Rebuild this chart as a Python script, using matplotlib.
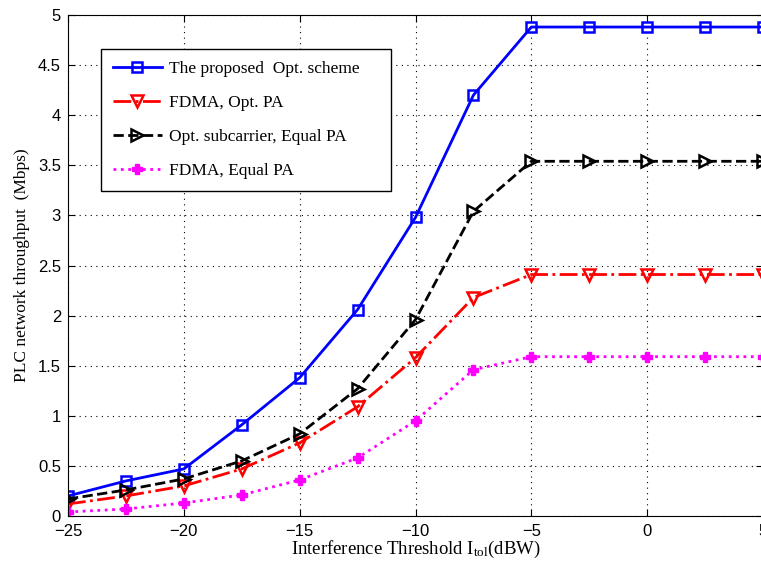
import numpy as np
import matplotlib.pyplot as plt

plt.rcParams['mathtext.fontset'] = 'custom'
plt.rcParams['mathtext.rm'] = 'Liberation Serif'
plt.rcParams['mathtext.it'] = 'Liberation Serif'

x = [-25, -22.5, -20, -17.5, -15, -12.5, -10, -7.5, -5, -2.5, 0, 2.5, 5]
proposed = [0.2, 0.35, 0.47, 0.91, 1.38, 2.06, 2.98, 4.2, 4.88, 4.88, 4.88, 4.88, 4.88]
fdma_opt = [0.12, 0.2, 0.3, 0.47, 0.73, 1.09, 1.58, 2.18, 2.41, 2.41, 2.41, 2.41, 2.41]
opt_sub_eq = [0.17, 0.26, 0.37, 0.55, 0.82, 1.27, 1.96, 3.04, 3.54, 3.54, 3.54, 3.54, 3.54]
fdma_eq = [0.04, 0.07, 0.13, 0.21, 0.36, 0.58, 0.95, 1.46, 1.59, 1.59, 1.59, 1.59, 1.59]

fig = plt.figure(figsize=(7.61, 5.65), dpi=100)
ax = fig.add_axes([68 / 761, 1 - 516 / 565, 695 / 761, 501 / 565])

ax.plot(x, proposed, 'b-', marker='s', mfc='none', mew=1.8, ms=7, lw=2,
        label='The proposed  Opt. scheme')
ax.plot(x, fdma_opt, color='red', ls='-.', marker='v', mfc='none', mew=1.8, ms=8, lw=2,
        label='FDMA, Opt. PA')
ax.plot(x, opt_sub_eq, color='black', ls='--', marker='>', mfc='none', mew=1.8, ms=8, lw=2,
        label='Opt. subcarrier, Equal PA')
ax.plot(x, fdma_eq, color='magenta', ls=':', marker='P', ms=7, lw=2,
        label='FDMA, Equal PA')

ax.set_xlim(-25, 5)
ax.set_ylim(0, 5)
ax.set_xticks([-25, -20, -15, -10, -5, 0, 5])
ax.set_xticklabels(['\u221225', '\u221220', '\u221215', '\u221210', '\u22125', '0', '5'])
ax.set_yticks(np.arange(0, 5.01, 0.5))
ax.set_yticklabels(['0', '0.5', '1', '1.5', '2', '2.5', '3', '3.5', '4', '4.5', '5'])
ax.tick_params(direction='in', top=True, right=True, labelsize=12, length=5)
ax.tick_params(axis='x', pad=6)
ax.tick_params(axis='y', pad=5)
for lab in ax.get_xticklabels() + ax.get_yticklabels():
    lab.set_family('Liberation Sans')
ax.grid(True, ls=(0, (1, 4)), color='black', lw=0.8)

ax.set_xlabel(r'Interference Threshold I$_{\mathrm{tol}}$(dBW)', fontsize=13.5,
              family='Liberation Serif', labelpad=0)
ax.set_ylabel('PLC network throughput  (Mbps)', fontsize=12.5, family='Liberation Serif',
              labelpad=6)

# legend box roughly 101..391 px wide, top at 49 px
leg = ax.legend(loc='upper left',
                bbox_to_anchor=(33 / 695, 1 - 34 / 501 - 0.2, 290 / 695, 0.2),
                mode='expand',
                prop={'family': 'Liberation Serif', 'size': 12.5},
                fancybox=False, edgecolor='black', framealpha=1,
                handlelength=2.8, handletextpad=0.4, labelspacing=1.02,
                borderpad=0.7, borderaxespad=0)
leg.get_frame().set_linewidth(1)

fig.savefig('out.png', dpi=100)
